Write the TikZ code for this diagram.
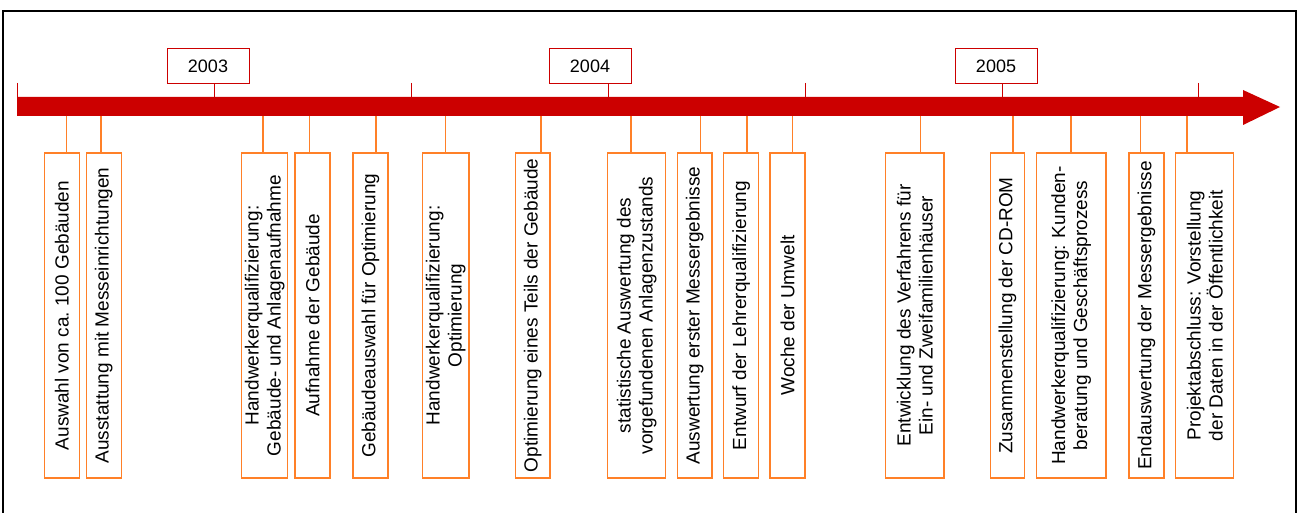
\documentclass[tikz,border=0pt]{standalone}
\usepackage{fontspec}
\setmainfont{Liberation Sans}
\definecolor{barred}{RGB}{204,0,0}
\definecolor{evorange}{RGB}{255,128,40}
\tikzset{
  yearbox/.style={draw=barred, line width=1pt, fill=white, minimum width=82pt, minimum height=35pt, inner sep=0pt, font=\fontsize{18}{21}\selectfont},
  evbox/.style={draw=evorange, line width=1.3pt, fill=white, rotate=90, minimum width=325pt, inner sep=0pt, align=center, font=\fontsize{19}{22}\selectfont},
  evline/.style={draw=evorange, line width=1.3pt},
  tickline/.style={draw=barred, line width=1pt},
}
\begin{document}
\begin{tikzpicture}[x=1pt,y=-1pt]
\useasboundingbox (0,0) rectangle (1297,513);
% frame
\draw[line width=1.6pt] (3,520) -- (3,11) -- (1296,11) -- (1296,520);
% ticks
\foreach \tx/\nm in {17/k0,411/k1,805/k2,1198/k3}{
  \coordinate (\nm) at (\tx,83);
  \draw[tickline] (\nm) -- ++(0,14);
}
% bar with arrowhead
\fill[barred] (17,97) -- (1243,97) -- (1243,90) -- (1280,107) -- (1243,125) -- (1243,116) -- (17,116) -- cycle;
% year boxes
\node[yearbox] (y3) at (208,66.5) {2003};
\node[yearbox] (y4) at (590,66.5) {2004};
\node[yearbox] (y5) at (996,66.5) {2005};
\foreach \yx/\yb in {214/y3,608/y4,1002/y5}{
  \coordinate (c\yb) at (\yx,97);
  \draw[tickline] (c\yb) -- (c\yb |- \yb.south);
}
% events
\foreach \n/\cx/\w/\lx/\t in {
 e1/61.8/35/66.3/{Auswahl von ca.\ 100 Gebäuden},
 e2/103.8/35/101/{Ausstattung mit Messeinrichtungen},
 e3/264.7/46/263/{Handwerkerqualifizierung:\\Gebäude- und Anlagenaufnahme},
 e4/312.5/35/309.3/{Aufnahme der Gebäude},
 e5/370.5/35/376/{Gebäudeauswahl für Optimierung},
 e6/445.7/46.7/445.7/{Handwerkerqualifizierung:\\Optimierung},
 e7/532.7/34.7/541/{Optimierung eines Teils der Gebäude},
 e8/636.7/58/631/{statistische Auswertung des\\vorgefundenen Anlagenzustands},
 e9/694.7/34.7/700.7/{Auswertung erster Messergebnisse},
 e10/741.2/35/747/{Entwurf der Lehrerqualifizierung},
 e11/787.5/35/792.7/{Woche der Umwelt},
 e12/914.8/58.3/920.7/{Entwicklung des Verfahrens für\\Ein- und Zweifamilienhäuser},
 e13/1007.5/34.4/1013/{Zusammenstellung der CD-ROM},
 e14/1071.3/69.3/1071/{Handwerkerqualifizierung: Kunden-\\beratung und Geschäftsprozess},
 e15/1146.5/35/1140.7/{Endauswertung der Messergebnisse},
 e16/1204.7/58/1187/{Projektabschluss: Vorstellung\\der Daten in der Öffentlichkeit}}{
  \node[evbox, minimum height=\w pt] (\n) at (\cx,315.5) {\t};
  \coordinate (l\n) at (\lx,116);
  \draw[evline] (l\n) -- (l\n |- \n.east);
}
\end{tikzpicture}
\end{document}
